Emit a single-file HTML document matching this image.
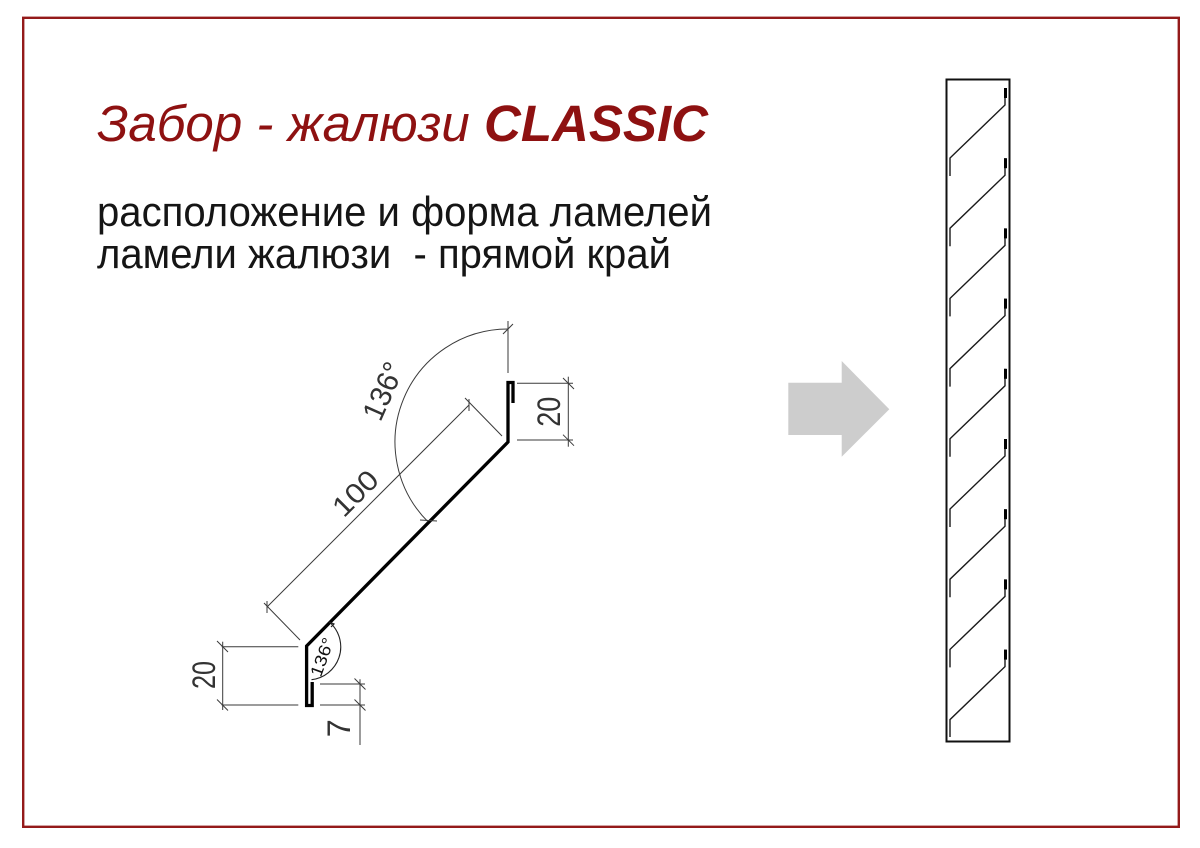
<!DOCTYPE html>
<html>
<head>
<meta charset="utf-8">
<style>
  html,body{margin:0;padding:0;background:#fff;}
  body{width:1200px;height:848px;overflow:hidden;position:relative;}
  svg{position:absolute;left:0;top:0;}
  .t{font-family:"Liberation Sans","Noto Sans CJK SC",sans-serif;}
</style>
</head>
<body>
<svg width="1200" height="848" viewBox="0 0 1200 848" xmlns="http://www.w3.org/2000/svg">
  <!-- border -->
  <rect x="23.2" y="17.8" width="1155.6" height="809" fill="none" stroke="#941a1a" stroke-width="2.4"/>

  <!-- title -->
  <text class="t" x="97" y="141" font-size="51" font-style="italic" fill="#8e1111" textLength="611" lengthAdjust="spacingAndGlyphs">Забор - жалюзи <tspan font-weight="bold">CLASSIC</tspan></text>
  <text class="t" x="97" y="226" font-size="42" fill="#151515" textLength="615" lengthAdjust="spacingAndGlyphs">расположение и форма ламелей</text>
  <text class="t" x="97" y="268" font-size="42" fill="#151515" xml:space="preserve" textLength="574" lengthAdjust="spacingAndGlyphs">ламели жалюзи  - прямой край</text>

  <!-- profile (thick) -->
  <path d="M513,403 V382.5 H508 V442 L306.6,646 V705.5 H312.2 V682" fill="none" stroke="#000" stroke-width="3.3" stroke-linejoin="miter"/>

  <!-- dimension lines -->
  <g stroke="#3a3a3a" stroke-width="1" fill="none">
    <!-- 100 -->
    <line x1="300" y1="640" x2="264" y2="603"/>
    <line x1="502" y1="436" x2="465" y2="398"/>
    <line x1="267" y1="607" x2="469" y2="405"/>
    <line x1="267" y1="601" x2="267" y2="613"/>
    <line x1="469" y1="399" x2="469" y2="411"/>
    <!-- upper 136 arc -->
    <line x1="508" y1="321" x2="508" y2="373"/>
    <path d="M508,329 A113,113 0 0 0 428.1,521.9"/>
    <line x1="503" y1="334" x2="513" y2="324"/>
    <line x1="420" y1="520" x2="437" y2="521"/>
    <!-- upper 20 -->
    <line x1="517" y1="383.3" x2="573" y2="383.3"/>
    <line x1="517" y1="440" x2="573" y2="440"/>
    <line x1="568.3" y1="376.7" x2="568.3" y2="446.7"/>
    <line x1="563" y1="378" x2="574" y2="389"/>
    <line x1="563" y1="434.7" x2="574" y2="445.7"/>
    <!-- left 20 -->
    <line x1="221.7" y1="646.7" x2="298.3" y2="646.7"/>
    <line x1="221.7" y1="705" x2="298.3" y2="705"/>
    <line x1="222.7" y1="641.7" x2="222.7" y2="710"/>
    <line x1="217" y1="641" x2="228" y2="652"/>
    <line x1="217" y1="699.5" x2="228" y2="710.5"/>
    <!-- 7 -->
    <line x1="320" y1="684" x2="365" y2="684"/>
    <line x1="320" y1="705" x2="365" y2="705"/>
    <line x1="360" y1="679.3" x2="360" y2="745"/>
    <line x1="354.5" y1="678.5" x2="365.5" y2="689.5"/>
    <line x1="354.5" y1="699.5" x2="365.5" y2="710.5"/>
  </g>
  <!-- small 136 arc -->
  <path d="M331,623.5 A33,33 0 0 1 311.5,679.7" fill="none" stroke="#222" stroke-width="1.1"/>
  <path d="M329,622 L334,624 L331,627" fill="none" stroke="#222" stroke-width="1.2"/>

  <!-- dimension texts -->
  <g class="t" fill="#333" text-anchor="middle">
    <text transform="translate(355,493) rotate(-45)" y="10" font-size="28" textLength="52" lengthAdjust="spacingAndGlyphs">100</text>
    <text transform="translate(383,391) rotate(-66)" y="10.5" font-size="30" textLength="60" lengthAdjust="spacingAndGlyphs">136°</text>
    <text transform="translate(548.3,411.7) rotate(-90)" y="11.5" font-size="32" textLength="30" lengthAdjust="spacingAndGlyphs">20</text>
    <text transform="translate(203.3,675) rotate(-90)" y="11.5" font-size="32" textLength="28" lengthAdjust="spacingAndGlyphs">20</text>
    <text transform="translate(338.3,728.3) rotate(-90)" y="11.5" font-size="32" textLength="18" lengthAdjust="spacingAndGlyphs">7</text>
    <text transform="translate(322,657) rotate(-70)" y="6" font-size="17" textLength="40" lengthAdjust="spacingAndGlyphs" fill="#111">136°</text>
  </g>

  <!-- arrow -->
  <polygon points="788.3,382.7 841.7,382.7 841.7,361 889.3,409.3 841.7,456.7 841.7,435 788.3,435" fill="#cdcdcd"/>

  <!-- right panel -->
  <rect x="946.5" y="79.5" width="63" height="662" fill="none" stroke="#111" stroke-width="2"/>
  <g fill="none" stroke="#1a1a1a" stroke-width="1.4">
    <path d="M1005,88 V105 L950,158 V176"/>
    <path d="M1005,158.2 V175.2 L950,228.2 V246.2"/>
    <path d="M1005,228.4 V245.4 L950,298.4 V316.4"/>
    <path d="M1005,298.6 V315.6 L950,368.6 V386.6"/>
    <path d="M1005,368.8 V385.8 L950,438.8 V456.8"/>
    <path d="M1005,439 V456 L950,509 V527"/>
    <path d="M1005,509.2 V526.2 L950,579.2 V597.2"/>
    <path d="M1005,579.4 V596.4 L950,649.4 V667.4"/>
    <path d="M1005,649.6 V666.6 L950,719.6 V737"/>
  </g>
  <g stroke="#000" stroke-width="3">
    <line x1="1005.5" y1="88" x2="1005.5" y2="98"/>
    <line x1="1005.5" y1="158.2" x2="1005.5" y2="168.2"/>
    <line x1="1005.5" y1="228.4" x2="1005.5" y2="238.4"/>
    <line x1="1005.5" y1="298.6" x2="1005.5" y2="308.6"/>
    <line x1="1005.5" y1="368.8" x2="1005.5" y2="378.8"/>
    <line x1="1005.5" y1="439" x2="1005.5" y2="449"/>
    <line x1="1005.5" y1="509.2" x2="1005.5" y2="519.2"/>
    <line x1="1005.5" y1="579.4" x2="1005.5" y2="589.4"/>
    <line x1="1005.5" y1="649.6" x2="1005.5" y2="659.6"/>
  </g>
</svg>
</body>
</html>
